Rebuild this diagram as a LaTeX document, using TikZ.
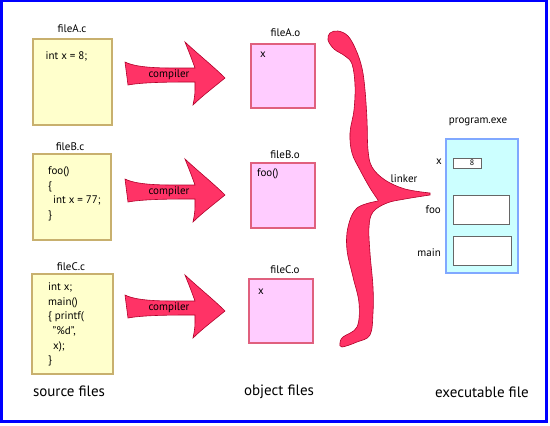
\documentclass[tikz,border=0pt]{standalone}
\usepackage{fontspec}
\setmainfont{PT Sans}
\definecolor{srcfill}{HTML}{FFFFCC}
\definecolor{srcline}{HTML}{C8B06E}
\definecolor{objfill}{HTML}{FFCCFF}
\definecolor{objline}{HTML}{E0607E}
\definecolor{exefill}{HTML}{CCFFFF}
\definecolor{exeline}{HTML}{80A8FF}
\definecolor{linkred}{HTML}{FF3366}
\definecolor{linkline}{HTML}{B0002A}
\definecolor{frameblue}{HTML}{0000FF}
\tikzset{
  srcbox/.style={draw=srcline, fill=srcfill, line width=1.2pt, inner sep=0pt},
  objbox/.style={draw=objline, fill=objfill, line width=1.2pt, inner sep=0pt},
  exebox/.style={draw=exeline, fill=exefill, line width=1.2pt, inner sep=0pt},
  slot/.style={draw=black!60, fill=white, line width=1pt, inner sep=0pt},
  fname/.style={font=\fontsize{11}{13}\selectfont, inner sep=0pt},
  code/.style={font=\fontsize{11}{14.7}\selectfont, align=left, inner sep=0pt, anchor=north west},
  caption/.style={font=\fontsize{15}{18}\selectfont, inner sep=0pt},
  arrowbody/.style={fill=linkred, draw=linkline, line width=0.6pt},
  pics/comparrow/.style={code={
    \filldraw[arrowbody] (-44,-13) .. controls (-30,-6) and (0,-7) .. (26,-7)
      .. controls (22,-18) .. (16,-33)
      .. controls (30,-20) and (45,-8) .. (56,3)
      .. controls (45,12) and (32,22) .. (24,30)
      .. controls (26,20) .. (26,7)
      .. controls (5,7) and (-25,7) .. (-41,10)
      -- cycle;
  }}
}
\begin{document}
\begin{tikzpicture}[x=1pt, y=-1pt]
  \useasboundingbox (0,0) rectangle (550,426);
  \draw[frameblue, line width=2.6pt] (1.2,0.9) rectangle (546.7,421.7);

  % source files
  \node (srcA) [srcbox, minimum width=79pt, minimum height=86pt] at (72.5,82) {};
  \node (srcB) [srcbox, minimum width=78pt, minimum height=86pt] at (72,197) {};
  \node (srcC) [srcbox, minimum width=81pt, minimum height=100pt] at (72.5,324) {};
  \node (nameA) [fname] at (72,29) {fileA.c};
  \node (nameB) [fname] at (70,147) {fileB.c};
  \node (nameC) [fname] at (71,267) {fileC.c};
  \node (codeA) [code] at (45.5,51) {int x = 8;};
  \node (codeB) [code] at (48,166.5) {foo()\\ \{\\ \hspace*{5pt}int x = 77;\\ \}};
  \node (codeC) [code] at (48,282.5) {int x;\\ main()\\ \{ printf(\\ \hspace*{4.5pt}"\%d",\\ \hspace*{5pt}x);\\ \}};

  % compiler arrows
  \foreach \y/\n in {75/A,192/B,308/C} {
    \pic at (169,\y) {comparrow};
    \node (comp\n) [fname] at (169,\y) {compiler};
  }

  % object files
  \node (objA) [objbox, minimum width=64pt, minimum height=64pt] at (283,76) {};
  \node (objB) [objbox, minimum width=64pt, minimum height=65pt] at (283,195.5) {};
  \node (objC) [objbox, minimum width=64pt, minimum height=64pt] at (281,311) {};
  \node (onameA) [fname] at (285.5,33) {fileA.o};
  \node (onameB) [fname] at (285,155) {fileB.o};
  \node (onameC) [fname] at (285,270) {fileC.o};
  \node (symA) [fname] at (263,55) {x};
  \node (symB) [fname, anchor=west] at (257,174) {foo()};
  \node (symC) [fname] at (261,292) {x};

  % linker brace
  \filldraw[arrowbody]
    plot[smooth, tension=0.6] coordinates {(430,193) (405,189) (385,180) (372,167) (368,150)
      (367,120) (365,90) (362,68) (356,50) (348,36) (338,31) (330,33) (328,40) (334,49)
      (345,56) (352,64) (355,85) (354,110) (350,133) (352,153) (360,170) (370,188) (378,200)}
    -- plot[smooth, tension=0.6] coordinates {(378,201) (357,208) (348,227) (347,250)
      (353,277) (359,303) (357,327) (343,337) (340,343) (342,347) (357,342) (370,335)
      (373,313) (373,287) (370,253) (369,227) (373,212) (387,203) (405,199) (430,195)}
    -- cycle;
  \node (linker) [fname] at (404,179) {linker};

  % executable
  \node (exe) [exebox, minimum width=72pt, minimum height=134pt] at (482,206) {};
  \node (exename) [fname] at (478,122) {program.exe};
  \node (xslot) [slot, minimum width=28pt, minimum height=10pt] at (467,163) {};
  \node (xval) [font=\fontsize{8}{9}\selectfont, inner sep=0pt] at (472,163) {8};
  \node (fooslot) [slot, minimum width=56pt, minimum height=29pt] at (481,209.5) {};
  \node (mainslot) [slot, minimum width=58pt, minimum height=29pt] at (482,250.5) {};
  \node (xlbl) [fname, anchor=east] at (442,162) {x};
  \node (foolbl) [fname, anchor=east] at (441,210) {foo};
  \node (mainlbl) [fname, anchor=east] at (441,253) {main};

  % captions
  \node (capsrc) [caption] at (69,391) {source files};
  \node (capobj) [caption] at (279,392) {object files};
  \node (capexe) [caption] at (482,392) {executable file};
\end{tikzpicture}
\end{document}
